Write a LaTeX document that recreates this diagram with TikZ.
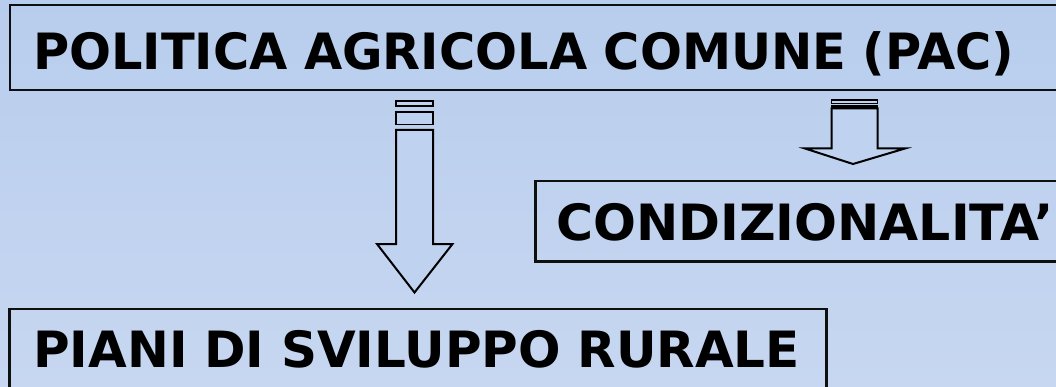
\documentclass[tikz,border=0pt]{standalone}
\usepackage{graphicx}
\usepackage{fontspec}
\setmainfont{DejaVu Sans}
\definecolor{bgtop}{RGB}{184,205,237}
\definecolor{bgbot}{RGB}{199,215,241}
\definecolor{bgmid}{RGB}{191,210,239}
\definecolor{edge}{RGB}{15,15,15}
\begin{document}
\begin{tikzpicture}[x=1pt,y=-1pt,
  box/.style={draw=edge, line width=2.5pt, anchor=north west, align=left,
    inner ysep=0pt, font=\fontsize{50}{60}\selectfont\bfseries},
  blockarrow/.style={draw=black, line width=2pt, fill=bgmid, line join=miter},
  stripe/.style={draw=black, line width=1.6pt, fill=bgmid}]
\useasboundingbox (0,0) rectangle (1056,387);
\shade[top color=bgtop, bottom color=bgbot] (0,0) rectangle (1056,387);
\clip (0,0) rectangle (1056,387);
% boxes
\node[box, line width=2.2pt, inner xsep=23pt, text width=1043pt, text height=64pt, text depth=21pt]
  (pac) at (9,4) {\scalebox{0.988}[1]{POLITICA AGRICOLA COMUNE (PAC)}};
\node[box, inner xsep=21pt, text width=560pt, text height=59pt, text depth=21pt]
  (cond) at (534,180) {\scalebox{1.01}[1]{CONDIZIONALITA’}};
\node[box, inner xsep=24pt, text width=769pt, text height=58.5pt, text depth=60pt]
  (psr) at (8,307.5) {PIANI DI SVILUPPO RURALE};
% left striped block arrow
\draw[stripe] (396,101) rectangle (433,106);
\draw[stripe] (396,112) rectangle (433,124.5);
\draw[blockarrow] (396,130) -- (396,244) -- (377,244) -- (414.5,292.5)
  -- (452.5,244) -- (433,244) -- (433,130) -- cycle;
% right striped block arrow
\draw[stripe] (831.5,100) rectangle (877.5,103.5);
\draw[stripe] (831.5,105.5) rectangle (877.5,106.8);
\draw[blockarrow] (831.5,108.5) -- (831.5,148.5) -- (805,148.5) -- (853,164)
  -- (905,148.5) -- (877.5,148.5) -- (877.5,108.5) -- cycle;
\end{tikzpicture}
\end{document}
